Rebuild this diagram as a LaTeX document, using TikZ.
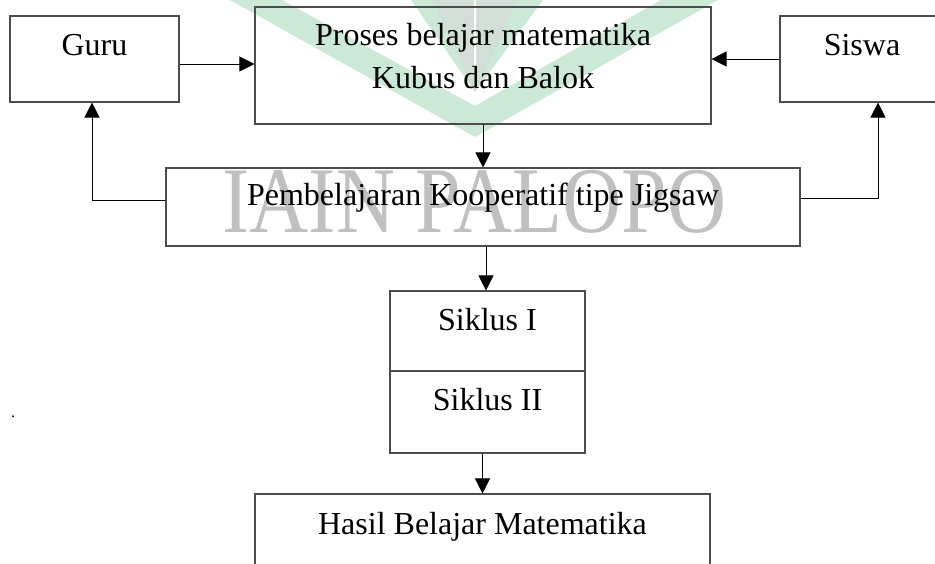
\documentclass[tikz,border=0pt]{standalone}
\usepackage{fontspec}
\setmainfont{Liberation Serif}
\usetikzlibrary{arrows.meta}
\definecolor{wmgreen}{RGB}{204,232,215}
\definecolor{wmgrey}{RGB}{210,222,216}
\definecolor{wmtext}{RGB}{192,192,192}
\begin{document}
\begin{tikzpicture}[x=1pt,y=-1pt]
		\tikzset{box/.style = {draw=black!70, line width=1.1pt, inner sep=0pt, align=center,
				font=\fontsize{32}{43}\selectfont}}
		\tikzset{arrow/.style = {draw, line width=0.8pt, -{Triangle[length=15pt,width=15pt]}}}
		\useasboundingbox (0,0) rectangle (935,563);
		
		% watermark
		\fill[wmgreen] (230,0) -- (475,137) -- (718,0) -- (661,0) -- (475,106) -- (282,0) -- cycle;
		\fill[wmgreen] (411,0) -- (543,0) -- (475,92) -- cycle;
		\fill[wmgrey] (433,0) -- (517,0) -- (475,92) -- cycle;
		\draw[white, line width=1.5pt] (475,0) -- (475,86);
		\node[wmtext, anchor=base, font=\fontsize{94}{94}\selectfont] (wm) at (474.5,232)
			{\scalebox{0.87}[1]{IAIN PALOPO}};
		
		% nodes
		\node[box, minimum width=169pt, text height=39.5pt, text depth=46.5pt] (guru) at (94.5,59) {Guru};
		\node[box, minimum width=164pt, text height=39.5pt, text depth=46.5pt] (siswa) at (862,59) {Siswa};
		\node[box, minimum width=456pt, text height=81pt, text depth=36pt] (proses) at (483,65.5)
			{Proses belajar matematika\\Kubus dan Balok};
		\node[box, minimum width=634pt, text height=37pt, text depth=41pt] (pemb) at (483,207)
			{Pembelajaran Kooperatif tipe Jigsaw};
		\node[box, minimum width=195pt, text height=39pt, text depth=41pt] (sik1) at (487.5,331) {Siklus I};
		\node[box, minimum width=195pt, text height=39pt, text depth=43pt] (sik2) at (487.5,412) {Siklus II};
		\node[box, minimum width=455pt, text height=40pt, text depth=50pt] (hasil) at (482.5,539)
			{Hasil Belajar Matematika};
		\node[font=\fontsize{16}{16}\selectfont, inner sep=0pt, anchor=base] (dot) at (13,417) {.};
		
		% edges
		\draw[arrow] ([yshift=-5pt]guru.east) -- ([yshift=-5pt]guru.east -| proses.west);
		\draw[arrow] (siswa.west) -- (siswa.west -| proses.east);
		\draw[arrow] (proses) -- (pemb);
		\draw[arrow] ([xshift=3pt]pemb.south) -- ([xshift=3pt]pemb.south |- sik1.north);
		\draw[arrow] (hasil.north |- sik2.south) -- (hasil.north);
		
		% feedback to guru and siswa
		\draw[arrow] ([yshift=7pt]pemb.west) -| ([xshift=-2.5pt]guru.south);
		\draw[arrow] ([yshift=9pt]pemb.east) -| ([xshift=16pt]siswa.south);
\end{tikzpicture}
\end{document}
